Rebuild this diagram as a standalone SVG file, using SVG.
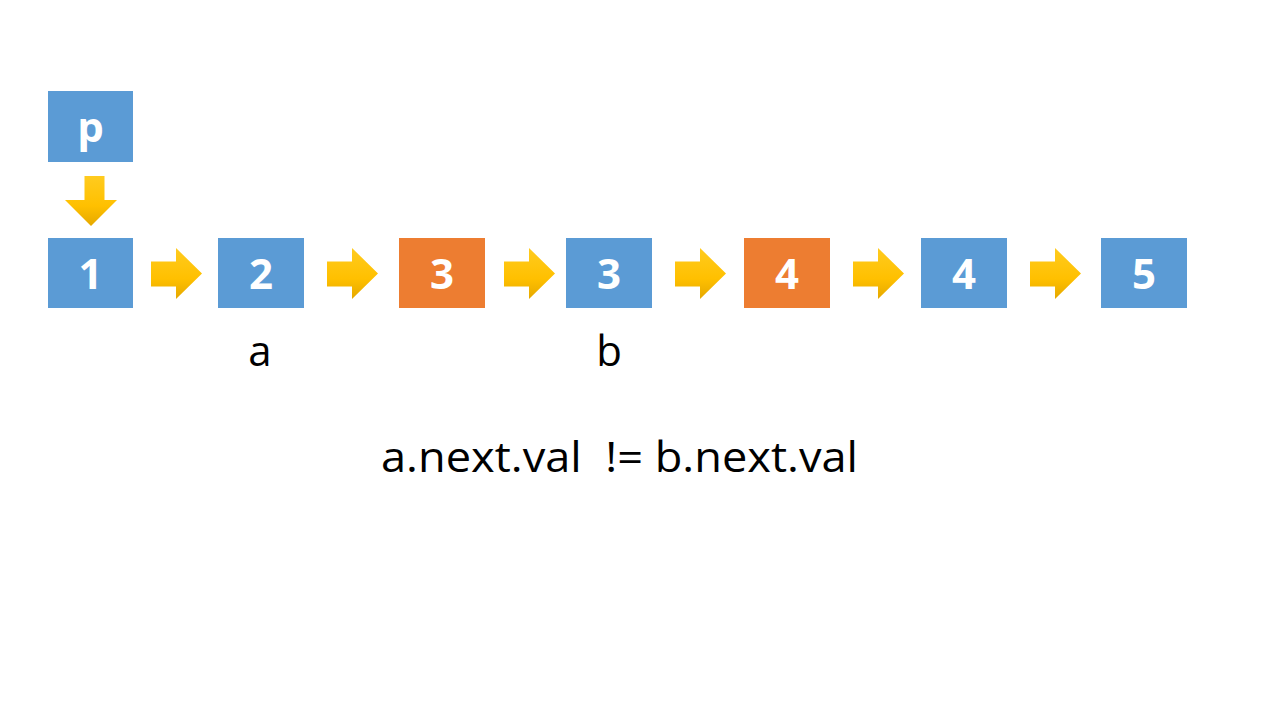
<svg xmlns="http://www.w3.org/2000/svg" width="1280" height="720" viewBox="0 0 1280 720">
<defs>
<linearGradient id="gold" x1="0" y1="0" x2="0" y2="1">
<stop offset="0" stop-color="#FFCB1F"/>
<stop offset="0.6" stop-color="#FFC000"/>
<stop offset="1" stop-color="#E5A800"/>
</linearGradient>
<path id="rarrow" d="M0,13.5 H25 V0 L51,25.5 L25,51 V38.5 H0 Z"/>
</defs>
<style>
.blue{fill:#5B9BD5}
.orange{fill:#ED7D31}
.val{font-family:"Open Sans","Liberation Sans",sans-serif;font-weight:bold;font-size:42px;fill:#fff;text-anchor:middle}
.lbl{font-family:"Open Sans","Liberation Sans",sans-serif;font-size:42px;fill:#000}
.arr{fill:url(#gold)}
</style>
<rect width="1280" height="720" fill="#fff"/>
<g id="p">
<rect class="blue" x="48" y="91" width="85" height="71"/>
<text class="val" x="90.5" y="142">p</text>
</g>
<g id="n1"><rect class="blue" x="48" y="238" width="85" height="70"/><text class="val" x="90.5" y="289">1</text></g>
<g id="n2"><rect class="blue" x="218" y="238" width="86" height="70"/><text class="val" x="261" y="289">2</text></g>
<g id="n3a"><rect class="orange" x="399" y="238" width="86" height="70"/><text class="val" x="442" y="289">3</text></g>
<g id="n3b"><rect class="blue" x="566" y="238" width="86" height="70"/><text class="val" x="609" y="289">3</text></g>
<g id="n4a"><rect class="orange" x="744" y="238" width="86" height="70"/><text class="val" x="787" y="289">4</text></g>
<g id="n4b"><rect class="blue" x="921" y="238" width="86" height="70"/><text class="val" x="964" y="289">4</text></g>
<g id="n5"><rect class="blue" x="1101" y="238" width="86" height="70"/><text class="val" x="1144" y="289">5</text></g>
<g id="connectors">
<path class="arr" d="M84.5,176 H104.5 V200 H117 L91,226 L65,200 H84.5 Z"/>
<use class="arr" href="#rarrow" x="151" y="248"/>
<use class="arr" href="#rarrow" x="327" y="248"/>
<use class="arr" href="#rarrow" x="504" y="248"/>
<use class="arr" href="#rarrow" x="675" y="248"/>
<use class="arr" href="#rarrow" x="853" y="248"/>
<use class="arr" href="#rarrow" x="1030" y="248"/>
</g>
<g id="labels">
<text class="lbl" x="260" y="366" text-anchor="middle">a</text>
<text class="lbl" x="609" y="366" text-anchor="middle">b</text>
<text class="lbl" x="381" y="472" textLength="477" lengthAdjust="spacingAndGlyphs" xml:space="preserve" style="white-space:pre">a.next.val  != b.next.val</text>
</g>
</svg>
